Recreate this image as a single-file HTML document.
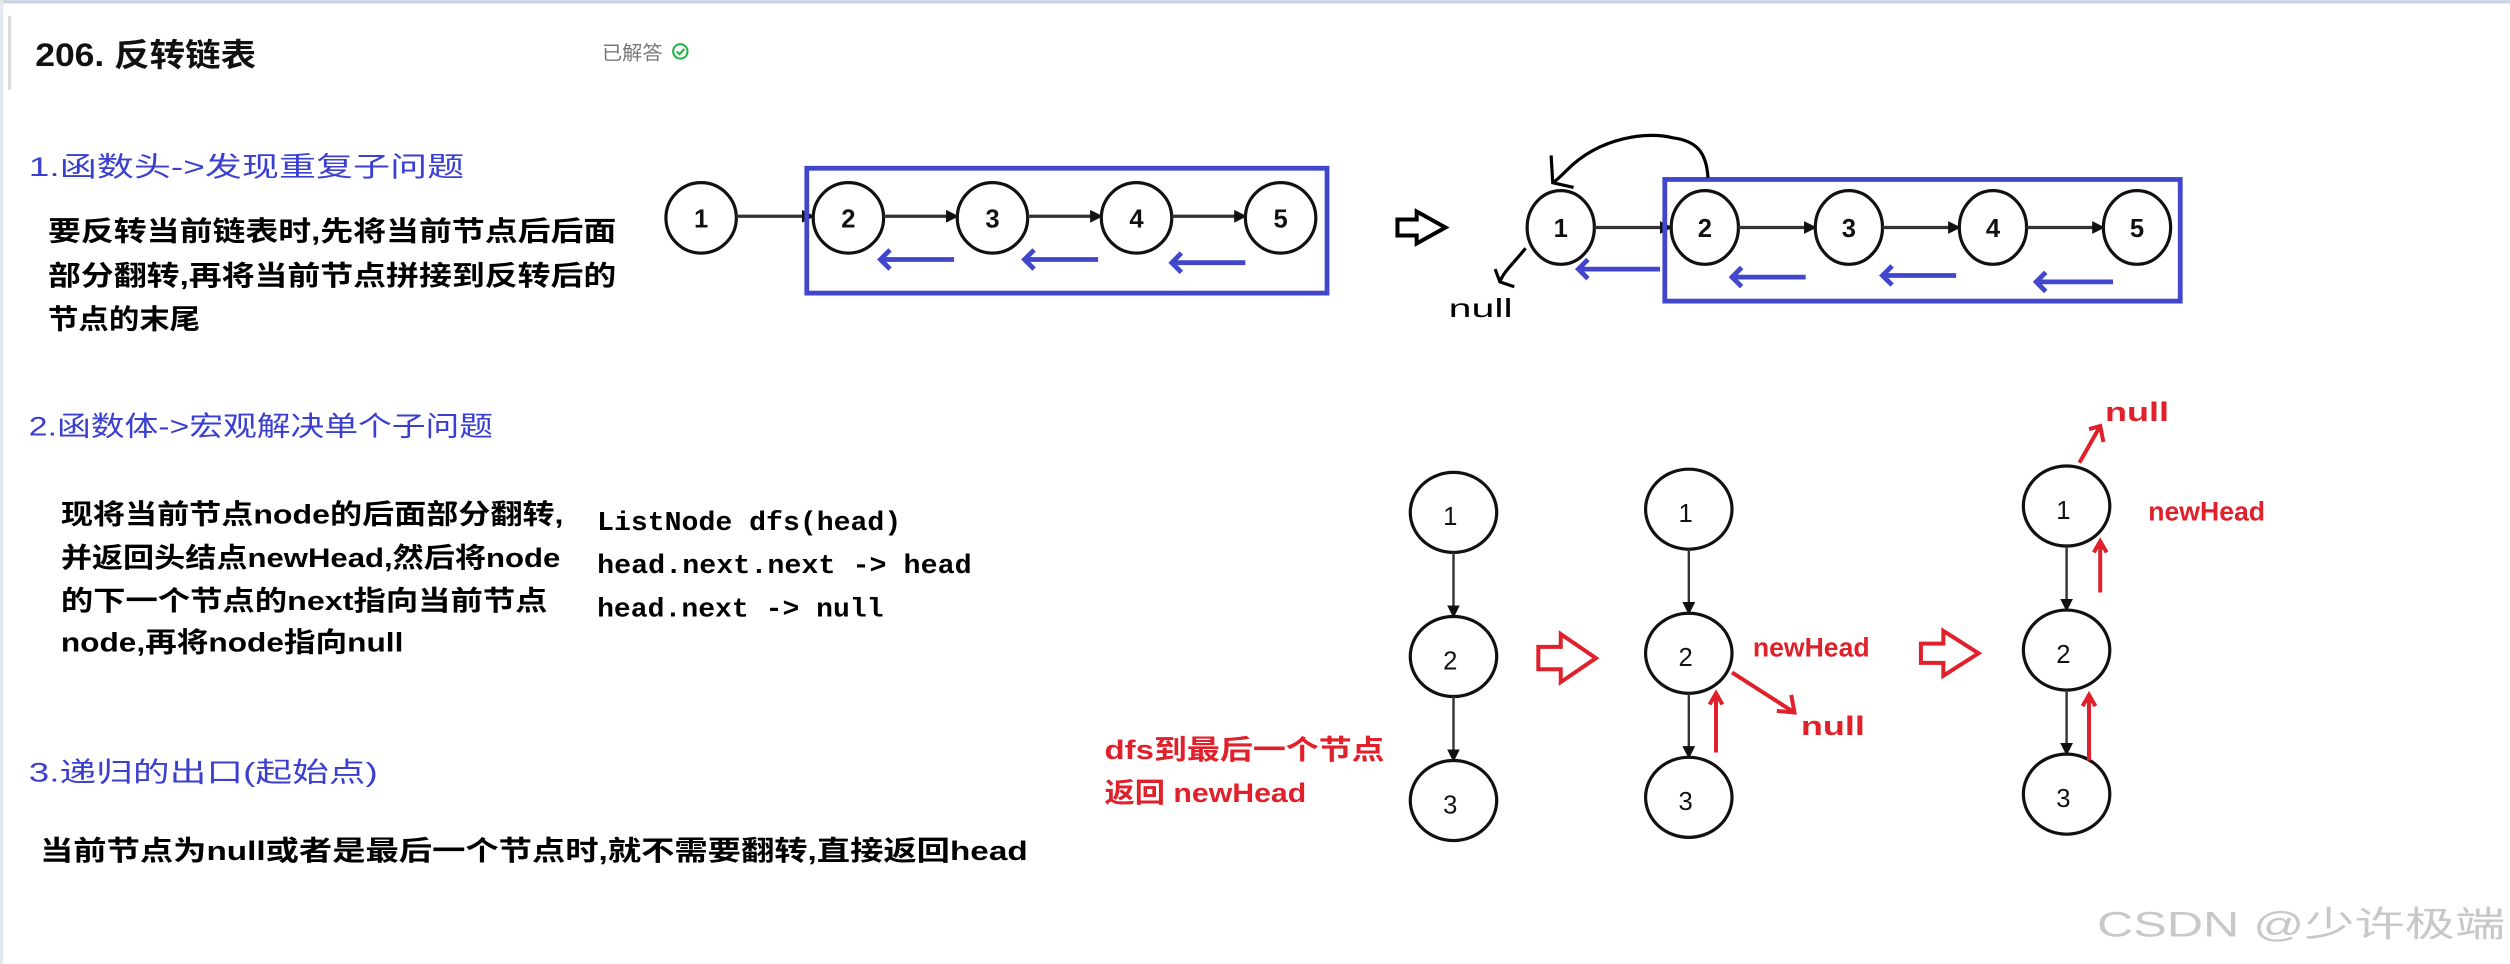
<!DOCTYPE html>
<html><head><meta charset="utf-8"><style>
html,body{margin:0;padding:0;background:#fff;}
svg{display:block;}
.cj{font-family:"Liberation Sans","WenQuanYi Zen Hei","Noto Sans CJK SC",sans-serif;}
.mono{font-family:"Liberation Mono","DejaVu Sans Mono",monospace;}
</style></head><body>
<svg width="2510" height="964" viewBox="0 0 1568 602" xmlns="http://www.w3.org/2000/svg">
<defs>
<marker id="ah" markerWidth="8" markerHeight="8" refX="7" refY="4" orient="auto" markerUnits="userSpaceOnUse"><path d="M0,0 L8,4 L0,8 z" fill="#111"/></marker>
</defs>
<rect width="1568" height="602" fill="#fff"/>
<rect x="0" y="0" width="1568" height="2" fill="#c9d3e3"/>
<rect x="0" y="0" width="2" height="602" fill="#e4e8ef"/>
<rect x="5" y="10" width="2" height="46" fill="#dcdcdc"/>
<text x="22" y="41" class="cj" font-size="20" font-weight="bold" fill="#111" textLength="138" lengthAdjust="spacingAndGlyphs">206. 反转链表</text>
<text x="376" y="37" class="cj" font-size="12" fill="#777" textLength="38" lengthAdjust="spacingAndGlyphs">已解答</text>
<circle cx="425" cy="32" r="4.5" fill="none" stroke="#2ab04a" stroke-width="1.3"/>
<path d="M422.8,32 L424.5,33.8 L427.5,30.5" fill="none" stroke="#2ab04a" stroke-width="1.3"/>

<g class="cj" fill="#3a3fd0" font-size="17">
<text x="18" y="110" textLength="272" lengthAdjust="spacingAndGlyphs">1.函数头-&gt;发现重复子问题</text>
<text x="18" y="272" textLength="290" lengthAdjust="spacingAndGlyphs">2.函数体-&gt;宏观解决单个子问题</text>
<text x="18" y="488" textLength="218" lengthAdjust="spacingAndGlyphs">3.递归的出口(起始点)</text>
</g>
<g class="cj" fill="#000" font-size="17" font-weight="bold">
<text x="30" y="150" textLength="355" lengthAdjust="spacingAndGlyphs">要反转当前链表时,先将当前节点后后面</text>
<text x="30" y="178" textLength="355" lengthAdjust="spacingAndGlyphs">部分翻转,再将当前节点拼接到反转后的</text>
<text x="30" y="205" textLength="95" lengthAdjust="spacingAndGlyphs">节点的末尾</text>
<text x="38" y="327" textLength="314" lengthAdjust="spacingAndGlyphs">现将当前节点node的后面部分翻转,</text>
<text x="38" y="354" textLength="312" lengthAdjust="spacingAndGlyphs">并返回头结点newHead,然后将node</text>
<text x="38" y="381" textLength="304" lengthAdjust="spacingAndGlyphs">的下一个节点的next指向当前节点</text>
<text x="38" y="407" textLength="214" lengthAdjust="spacingAndGlyphs">node,再将node指向null</text>
<text x="25" y="537" textLength="617" lengthAdjust="spacingAndGlyphs">当前节点为null或者是最后一个节点时,就不需要翻转,直接返回head</text>
</g>
<g class="mono" fill="#000" font-size="17" font-weight="bold">
<text x="373" y="331" textLength="190" lengthAdjust="spacingAndGlyphs">ListNode dfs(head)</text>
<text x="373" y="358" textLength="234" lengthAdjust="spacingAndGlyphs">head.next.next -&gt; head</text>
<text x="373" y="385" textLength="179" lengthAdjust="spacingAndGlyphs">head.next -&gt; null</text>
</g>

<g stroke="#111" stroke-width="2" fill="#fff">
<ellipse cx="438" cy="136" rx="22" ry="22"/>
<ellipse cx="530" cy="136" rx="22" ry="22"/>
<ellipse cx="620" cy="136" rx="22" ry="22"/>
<ellipse cx="710" cy="136" rx="22" ry="22"/>
<ellipse cx="800" cy="136" rx="22" ry="22"/>
</g>
<g stroke="#333" stroke-width="2">
<line x1="460" y1="135" x2="508" y2="135" marker-end="url(#ah)"/>
<line x1="552" y1="135" x2="598" y2="135" marker-end="url(#ah)"/>
<line x1="642" y1="135" x2="688" y2="135" marker-end="url(#ah)"/>
<line x1="732" y1="135" x2="778" y2="135" marker-end="url(#ah)"/>
</g>
<g font-family="Liberation Sans,sans-serif" font-weight="bold" font-size="16" text-anchor="middle" fill="#111">
<text x="438" y="142">1</text><text x="530" y="142">2</text><text x="620" y="142">3</text><text x="710" y="142">4</text><text x="800" y="142">5</text>
</g>
<rect x="504" y="105" width="325" height="78" fill="none" stroke="#4146cc" stroke-width="3"/>
<g stroke="#4146cc" stroke-width="3" fill="none">
<path d="M596,162 L552,162 M556,156 L550,162 L556,168"/>
<path d="M686,162 L642,162 M646,156 L640,162 L646,168"/>
<path d="M778,164 L734,164 M738,158 L732,164 L738,170"/>
</g>

<path d="M873,137 L885,137 L885,132 L903,142 L885,152 L885,147 L873,147 z" fill="#fff" stroke="#000" stroke-width="2.5"/>

<g stroke="#111" stroke-width="2" fill="#fff">
<ellipse cx="975" cy="142" rx="21" ry="23"/>
<ellipse cx="1065" cy="142" rx="21" ry="23"/>
<ellipse cx="1155" cy="142" rx="21" ry="23"/>
<ellipse cx="1245" cy="142" rx="21" ry="23"/>
<ellipse cx="1335" cy="142" rx="21" ry="23"/>
</g>
<g stroke="#333" stroke-width="2">
<line x1="996" y1="142" x2="1044" y2="142" marker-end="url(#ah)"/>
<line x1="1086" y1="142" x2="1134" y2="142" marker-end="url(#ah)"/>
<line x1="1176" y1="142" x2="1224" y2="142" marker-end="url(#ah)"/>
<line x1="1266" y1="142" x2="1314" y2="142" marker-end="url(#ah)"/>
</g>
<g font-family="Liberation Sans,sans-serif" font-weight="bold" font-size="16" text-anchor="middle" fill="#111">
<text x="975" y="148">1</text><text x="1065" y="148">2</text><text x="1155" y="148">3</text><text x="1245" y="148">4</text><text x="1335" y="148">5</text>
</g>
<rect x="1040" y="112" width="322" height="76" fill="none" stroke="#4146cc" stroke-width="3"/>
<g stroke="#4146cc" stroke-width="3" fill="none">
<path d="M1037,168 L988,168 M992,162 L986,168 L992,174"/>
<path d="M1128,173 L1084,173 M1088,167 L1082,173 L1088,179"/>
<path d="M1222,172 L1178,172 M1182,166 L1176,172 L1182,178"/>
<path d="M1320,176 L1274,176 M1278,170 L1272,176 L1278,182"/>
</g>
<g stroke="#000" stroke-width="2" fill="none">
<path d="M1067,111 C1066,95 1060,88 1045,86 C1030,82 1000,85 979,106 C975,110 972,113 970,114 M969,97 L970,114 L983,117"/>
<path d="M953,155 C945,165 939,170 937,176 M934,168 L937,176 L946,179"/>
</g>
<text x="905" y="198" font-family="Liberation Sans,sans-serif" font-size="16" fill="#000" textLength="40" lengthAdjust="spacingAndGlyphs">null</text>

<g stroke="#111" stroke-width="2" fill="#fff">
<ellipse cx="908" cy="320" rx="27" ry="25"/><ellipse cx="908" cy="410" rx="27" ry="25"/><ellipse cx="908" cy="500" rx="27" ry="25"/>
<ellipse cx="1055" cy="318" rx="27" ry="25"/><ellipse cx="1055" cy="408" rx="27" ry="25"/><ellipse cx="1055" cy="498" rx="27" ry="25"/>
<ellipse cx="1291" cy="316" rx="27" ry="25"/><ellipse cx="1291" cy="406" rx="27" ry="25"/><ellipse cx="1291" cy="496" rx="27" ry="25"/>
</g>
<g stroke="#333" stroke-width="1.5">
<line x1="908" y1="345" x2="908" y2="385" marker-end="url(#ah)"/>
<line x1="908" y1="435" x2="908" y2="475" marker-end="url(#ah)"/>
<line x1="1055" y1="343" x2="1055" y2="383" marker-end="url(#ah)"/>
<line x1="1055" y1="433" x2="1055" y2="473" marker-end="url(#ah)"/>
<line x1="1291" y1="341" x2="1291" y2="381" marker-end="url(#ah)"/>
<line x1="1291" y1="431" x2="1291" y2="471" marker-end="url(#ah)"/>
</g>
<g font-family="Liberation Sans,sans-serif" font-size="16" text-anchor="middle" fill="#111">
<text x="906" y="328">1</text><text x="906" y="418">2</text><text x="906" y="508">3</text>
<text x="1053" y="326">1</text><text x="1053" y="416">2</text><text x="1053" y="506">3</text>
<text x="1289" y="324">1</text><text x="1289" y="414">2</text><text x="1289" y="504">3</text>
</g>
<g fill="#fff" stroke="#e0202a" stroke-width="2.5">
<path d="M961,404 L975,404 L975,396 L997,411 L975,426 L975,418 L961,418 z"/>
<path d="M1200,402 L1214,402 L1214,394 L1236,408 L1214,422 L1214,414 L1200,414 z"/>
</g>
<g stroke="#e0202a" stroke-width="2.5" fill="none">
<path d="M1082,420 L1121,445 M1110,444 L1121,445 L1119,434"/>
<path d="M1072,470 L1072,433 M1068,440 L1072,433 L1076,440"/>
<path d="M1299,289 L1312,266 M1305,268 L1312,266 L1314,276"/>
<path d="M1312,370 L1312,338 M1308,345 L1312,338 L1316,345"/>
<path d="M1305,475 L1305,434 M1301,441 L1305,434 L1309,441"/>
</g>
<g fill="#e0202a" class="cj" font-size="17" font-weight="bold">
<text x="1095" y="410" textLength="73" lengthAdjust="spacingAndGlyphs">newHead</text>
<text x="1342" y="325" textLength="73" lengthAdjust="spacingAndGlyphs">newHead</text>
<text x="1125" y="459" textLength="40" lengthAdjust="spacingAndGlyphs">null</text>
<text x="1315" y="263" textLength="40" lengthAdjust="spacingAndGlyphs">null</text>
<text x="690" y="474" textLength="175" lengthAdjust="spacingAndGlyphs">dfs到最后一个节点</text>
<text x="690" y="501" textLength="126" lengthAdjust="spacingAndGlyphs">返回 newHead</text>
</g>
<text x="1310" y="585" class="cj" font-size="22" fill="#c8c8c8" textLength="255" lengthAdjust="spacingAndGlyphs">CSDN @少许极端</text>
</svg>
</body></html>
